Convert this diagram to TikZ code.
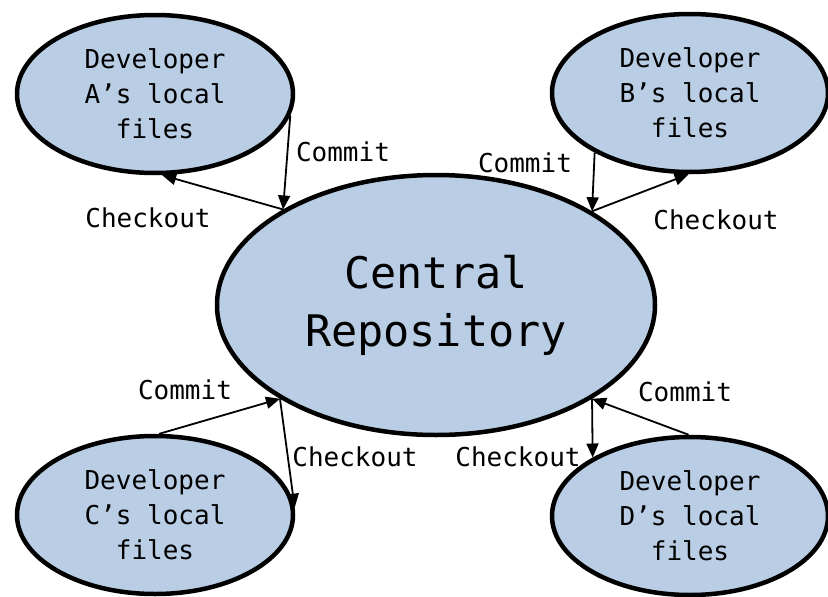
\documentclass[tikz,border=0pt]{standalone}
\usepackage{fontspec}
\setmonofont{DejaVu Sans Mono}
\usetikzlibrary{shapes.geometric,arrows.meta}
\definecolor{boxblue}{HTML}{B9CDE5}

\begin{document}
\begin{tikzpicture}[x=1pt, y=-1pt,
    blob/.style={ellipse, draw, line width=4.5pt, fill=boxblue, inner sep=0pt, align=center},
    repo/.style={blob, minimum width=438pt, minimum height=260pt, font=\ttfamily\fontsize{43.5}{58}\selectfont},
    local/.style={blob, minimum width=276pt, minimum height=158pt, font=\ttfamily\fontsize{26}{35}\selectfont},
    flow/.style={-{Triangle[length=14pt,width=12pt]}, line width=1.8pt},
    tag/.style={inner sep=0pt, font=\ttfamily\fontsize{26}{30}\selectfont}]
    \useasboundingbox (0,0) rectangle (828,597);
    \node[repo] (repo) at (436,305) {Central\\Repository};
    \node[local] (devA) at (155,94) {Developer\\A’s local\\files};
    \node[local] (devB) at (690,93) {Developer\\B’s local\\files};
    \node[local] (devC) at (155,515) {Developer\\C’s local\\files};
    \node[local] (devD) at (690,516) {Developer\\D’s local\\files};
    % commits go in, checkouts go out
    \draw[flow] (devA.351) -- (repo.148);
    \draw[flow] (repo.148) -- (devA.275);
    \draw[flow] (devB.212) -- (repo.31);
    \draw[flow] (repo.31) -- (devB.269);
    \draw[flow] (devC.87) -- (repo.211);
    \draw[flow] (repo.211) -- (devC.3);
    \draw[flow] (devD.91) -- (repo.329);
    \draw[flow] (repo.329) -- (devD.149);
    \node[tag] (commitA) at (343,152) {Commit};
    \node[tag] (checkoutA) at (148,218) {Checkout};
    \node[tag] (commitB) at (525,163) {Commit};
    \node[tag] (checkoutB) at (716,220) {Checkout};
    \node[tag] (commitC) at (185,390) {Commit};
    \node[tag] (checkoutC) at (355,457) {Checkout};
    \node[tag] (checkoutD) at (518,457) {Checkout};
    \node[tag] (commitD) at (685,392) {Commit};
\end{tikzpicture}
\end{document}
